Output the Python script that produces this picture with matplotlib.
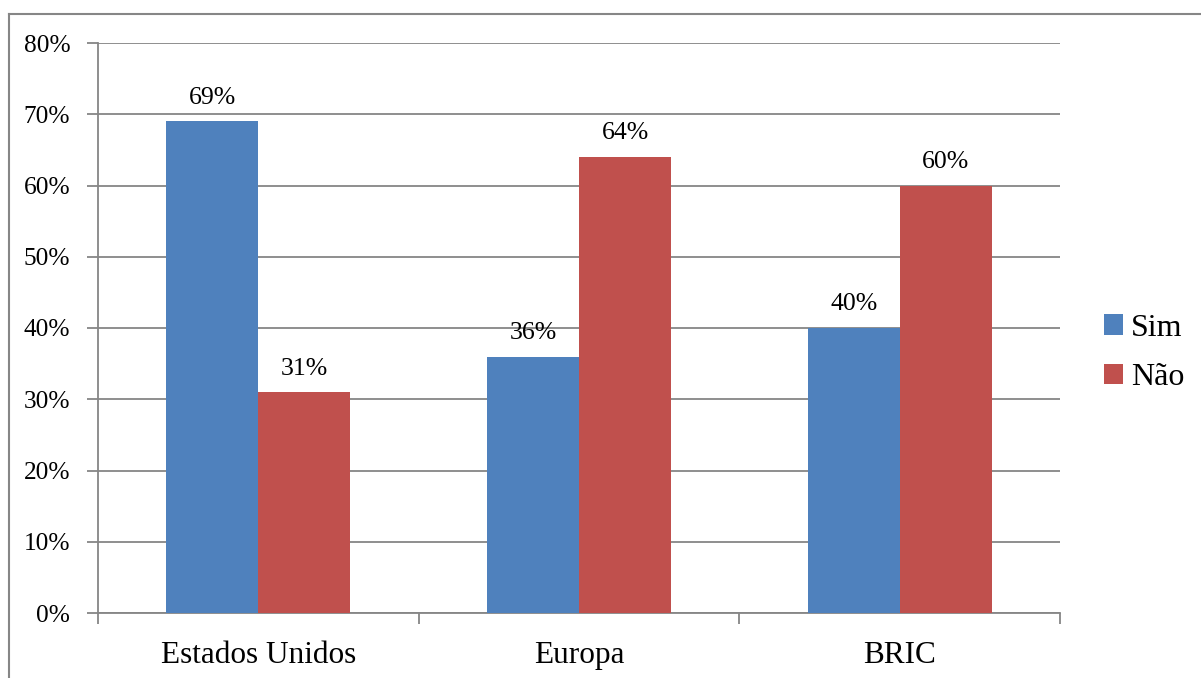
import matplotlib
matplotlib.use('Agg')
import matplotlib.pyplot as plt
from matplotlib.lines import Line2D
from matplotlib.ticker import FixedLocator, PercentFormatter
import numpy as np

plt.rcParams['font.family'] = ['Liberation Serif', 'DejaVu Serif']

categories = ['Estados Unidos', 'Europa', 'BRIC']
sim = [69, 36, 40]
nao = [31, 64, 60]
series_names = ['Sim', 'Não']
colors = ['#4F81BD', '#C0504D']
grid_color = '#868686'

W, H = 1201, 678
fig = plt.figure(figsize=(W / 100, H / 100), dpi=100)
ax = fig.add_axes([98 / W, 1 - 613 / H, (1060 - 98) / W, (613 - 43) / H])

x = np.arange(len(categories))
bw = 0.287
for vals, off, c, name in [(sim, -bw / 2, colors[0], series_names[0]),
                           (nao, bw / 2, colors[1], series_names[1])]:
    bars = ax.bar(x + off, vals, bw, color=c, label=name, zorder=3)
    for b, v in zip(bars, vals):
        ax.annotate(f'{v}%', (b.get_x() + b.get_width() / 2, v),
                    xytext=(0, 17), textcoords='offset points',
                    ha='center', va='center', fontsize=18.5)

ax.set_xlim(-0.5, len(categories) - 0.5)
ax.set_ylim(0, 80)
ax.set_yticks(np.arange(0, 81, 10))
ax.yaxis.set_major_formatter(PercentFormatter(decimals=0))
ax.yaxis.grid(True, color=grid_color, linewidth=1.3, zorder=0)

ax.set_xticks(x)
ax.set_xticklabels(categories, fontsize=22.5)
ax.xaxis.set_minor_locator(FixedLocator(np.arange(-0.5, len(categories), 1)))
ax.tick_params(axis='x', which='major', length=0, pad=20)
ax.tick_params(axis='x', which='minor', length=8, width=1.3, color=grid_color)
ax.tick_params(axis='y', length=8, width=1.3, color=grid_color, labelsize=18.3, pad=12)

for s in ['top', 'right']:
    ax.spines[s].set_visible(False)
for s in ['left', 'bottom']:
    ax.spines[s].set_color(grid_color)
    ax.spines[s].set_linewidth(1.3)

ax.legend(loc='center left', bbox_to_anchor=(1.016, 0.456), frameon=False,
          fontsize=23, handlelength=0.6, handleheight=0.6, handletextpad=0.25,
          labelspacing=0.65)

# outer chart border (left and top edges visible)
fig.add_artist(Line2D([8.5 / W, 8.5 / W], [0, 1 - 13.5 / H], color=grid_color,
                      linewidth=1.5, transform=fig.transFigure))
fig.add_artist(Line2D([8.5 / W, 1], [1 - 13.5 / H, 1 - 13.5 / H], color=grid_color,
                      linewidth=1.5, transform=fig.transFigure))

fig.savefig('out.png', dpi=100)
